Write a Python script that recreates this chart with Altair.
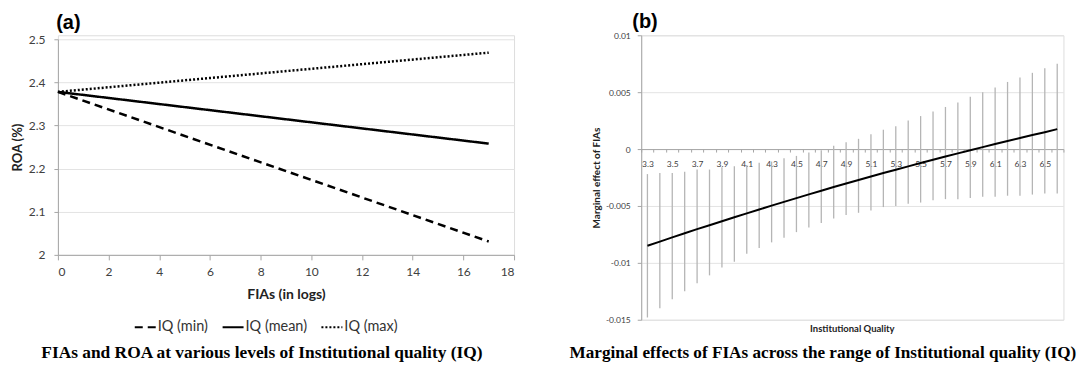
import altair as alt
import pandas as pd

# ---------------- Panel (a) data ----------------
fias = [0, 17]
iq_min = [2.378, 2.031]
iq_mean = [2.378, 2.258]
iq_max = [2.378, 2.469]
series_names = ["IQ (min)", "IQ (mean)", "IQ (max)"]
left_x_ticks = [0, 2, 4, 6, 8, 10, 12, 14, 16, 18]
left_y_ticks = [2, 2.1, 2.2, 2.3, 2.4, 2.5]

# ---------------- Panel (b) data ----------------
iq_levels = ["3.3", "3.4", "3.5", "3.6", "3.7", "3.8", "3.9", "4.0", "4.1", "4.2",
             "4.3", "4.4", "4.5", "4.6", "4.7", "4.8", "4.9", "5.0", "5.1", "5.2",
             "5.3", "5.4", "5.5", "5.6", "5.7", "5.8", "5.9", "6.0", "6.1", "6.2",
             "6.3", "6.4", "6.5", "6.6"]
me_upper = [-0.0022, -0.0021, -0.0021, -0.0020, -0.0018, -0.0018, -0.0016, -0.0015, -0.0014, -0.0012,
            -0.0011, -0.0008, -0.0006, -0.0003, -0.0001, 0.0003, 0.0006, 0.0009, 0.0013, 0.0017,
            0.0020, 0.0025, 0.0029, 0.0033, 0.0037, 0.0041, 0.0046, 0.0050, 0.0054, 0.0059,
            0.0063, 0.0067, 0.0071, 0.0075]
me_lower = [-0.0148, -0.0140, -0.0132, -0.0125, -0.0118, -0.0111, -0.0104, -0.0099, -0.0092, -0.0087,
            -0.0082, -0.0078, -0.0073, -0.0069, -0.0065, -0.0061, -0.0058, -0.0056, -0.0054, -0.0051,
            -0.0050, -0.0048, -0.0047, -0.0045, -0.0044, -0.0044, -0.0043, -0.0042, -0.0042, -0.0041,
            -0.0041, -0.0040, -0.0039, -0.0039]
me_mean = [-0.00850, -0.00813, -0.00776, -0.00740, -0.00704, -0.00669, -0.00634, -0.00599, -0.00565, -0.00531,
           -0.00497, -0.00464, -0.00431, -0.00398, -0.00366, -0.00334, -0.00303, -0.00272, -0.00241, -0.00211,
           -0.00181, -0.00152, -0.00123, -0.00094, -0.00066, -0.00038, -0.00010, 0.00017, 0.00044, 0.00071,
           0.00097, 0.00123, 0.00148, 0.00175]
right_y_ticks = [-0.015, -0.01, -0.005, 0, 0.005, 0.01]

SANS = "Lato"
SERIF = "Liberation Serif"
AXIS_GRAY = "#a6a6a6"
GRID_GRAY = "#e3e3e3"
LABEL_GRAY = "#404040"

# ---------------- Panel (a) ----------------
W1, H1 = 457, 220
rows = []
for name, vals in zip(series_names, [iq_min, iq_mean, iq_max]):
    for xv, yv in zip(fias, vals):
        rows.append({"fias": xv, "roa": yv, "series": name})
df_left = pd.DataFrame(rows)

left_lines = alt.Chart(df_left).mark_line(color="black", strokeWidth=2.5).encode(
    x=alt.X("fias:Q",
            scale=alt.Scale(domain=[0, 18], nice=False),
            axis=alt.Axis(values=left_x_ticks, grid=False, title="FIAs (in logs)",
                          domainColor=AXIS_GRAY, tickColor=AXIS_GRAY, tickSize=5,
                          labelPadding=7, labelFontSize=12, labelColor=LABEL_GRAY, labelFont=SANS,
                          titleFont=SANS, titleFontSize=14, titleFontWeight="bold",
                          titleColor="#222222", titleY=40, titleBaseline="middle")),
    y=alt.Y("roa:Q",
            scale=alt.Scale(domain=[2, 2.5], range=[H1, 4], nice=False, zero=False),
            axis=alt.Axis(values=left_y_ticks, labelExpr="'' + datum.value", grid=True,
                          gridColor=GRID_GRAY, domainColor=AXIS_GRAY, tickColor=AXIS_GRAY,
                          tickSize=4, labelPadding=9, labelFontSize=12, labelColor=LABEL_GRAY,
                          labelFont=SANS, title="ROA (%)", titleFont=SANS, titleFontSize=13,
                          titleFontWeight="bold", titleColor="#222222", titleX=-40, titleY=112,
                          titleAngle=270, titleAlign="center", titleBaseline="middle")),
    strokeDash=alt.StrokeDash(
        "series:N",
        scale=alt.Scale(domain=series_names, range=[[8, 5], [1, 0], [2, 2]]),
        legend=alt.Legend(title=None, orient="none", legendX=76, legendY=281,
                          direction="horizontal", symbolType="stroke", symbolSize=441,
                          symbolStrokeWidth=2, symbolStrokeColor="black",
                          labelFont=SANS, labelFontSize=14.5, labelColor="#333333",
                          labelOffset=1, columnPadding=10, padding=0)),
)

def label(text, x, y, size, font=SANS, weight="bold", color="#111111"):
    return alt.Chart(pd.DataFrame({"t": [text]})).mark_text(
        font=font, fontSize=size, fontWeight=weight, color=color,
        align="center", baseline="middle").encode(
        text="t:N", x=alt.value(x), y=alt.value(y))

left = alt.layer(
    left_lines,
    label("(a)", 10.5, -12.3, 20, font="Liberation Sans", color="black"),
    label("FIAs and ROA at various levels of Institutional quality (IQ)", 204.4, 318.4, 17.4,
          font=SERIF, color="black"),
).properties(width=W1, height=H1)

# ---------------- Panel (b) ----------------
W2, H2 = 423, 285
df_right = pd.DataFrame({"iq": iq_levels, "upper": me_upper, "lower": me_lower, "mean": me_mean})
y_dom = [-0.015, 0.01]
zero_offset = -H2 * (0 - y_dom[0]) / (y_dom[1] - y_dom[0])

x_right = alt.X("iq:O", sort=iq_levels,
                scale=alt.Scale(type="band", paddingInner=0, paddingOuter=0),
                axis=alt.Axis(title=None, offset=zero_offset, labelAngle=0,
                              labelExpr="round(toNumber(datum.value) * 10) % 2 == 1 ? datum.label : ''",
                              labelFontSize=8.5, labelFont=SANS, labelColor=LABEL_GRAY,
                              labelPadding=7, tickBand="extent", tickSize=3,
                              domainColor=AXIS_GRAY, tickColor=AXIS_GRAY, grid=False))
y_scale = alt.Scale(domain=y_dom, nice=False, zero=False)

bars = alt.Chart(df_right).mark_rule(color="#b5b5b5", strokeWidth=1.3).encode(
    x=x_right,
    y=alt.Y("lower:Q", scale=y_scale,
            axis=alt.Axis(values=right_y_ticks, labelExpr="'' + datum.value", grid=True,
                          gridColor=GRID_GRAY, domainColor=AXIS_GRAY, tickColor=AXIS_GRAY,
                          tickSize=4, labelPadding=7, labelFontSize=8.5, labelFont=SANS,
                          labelColor=LABEL_GRAY, title="Marginal effect of FIAs", titleFont=SANS,
                          titleFontSize=10, titleFontWeight="bold", titleColor="#222222",
                          titleX=-45, titleY=H2 / 2, titleAngle=270, titleAlign="center",
                          titleBaseline="middle")),
    y2="upper:Q",
)
me_line = alt.Chart(df_right).mark_line(color="black", strokeWidth=2).encode(
    x=x_right, y=alt.Y("mean:Q", scale=y_scale))

right = alt.layer(
    bars, me_line,
    label("(b)", 3.8, -13.1, 20, font="Liberation Sans", color="black"),
    label("Institutional Quality", W2 / 2, 294, 9.5, color="#222222"),
    label("Marginal effects of FIAs across the range of Institutional quality (IQ)", 182.0, 318, 17.2,
          font=SERIF, color="black"),
).properties(width=W2, height=H2)

chart = alt.hconcat(left, right, spacing=127.4, bounds="flush").properties(
    padding={"left": 3, "top": 3, "right": 0, "bottom": 0}
).configure_view(stroke=None).configure(font=SANS)

chart.save("out.html", embed_options={"renderer": "svg", "actions": False})
